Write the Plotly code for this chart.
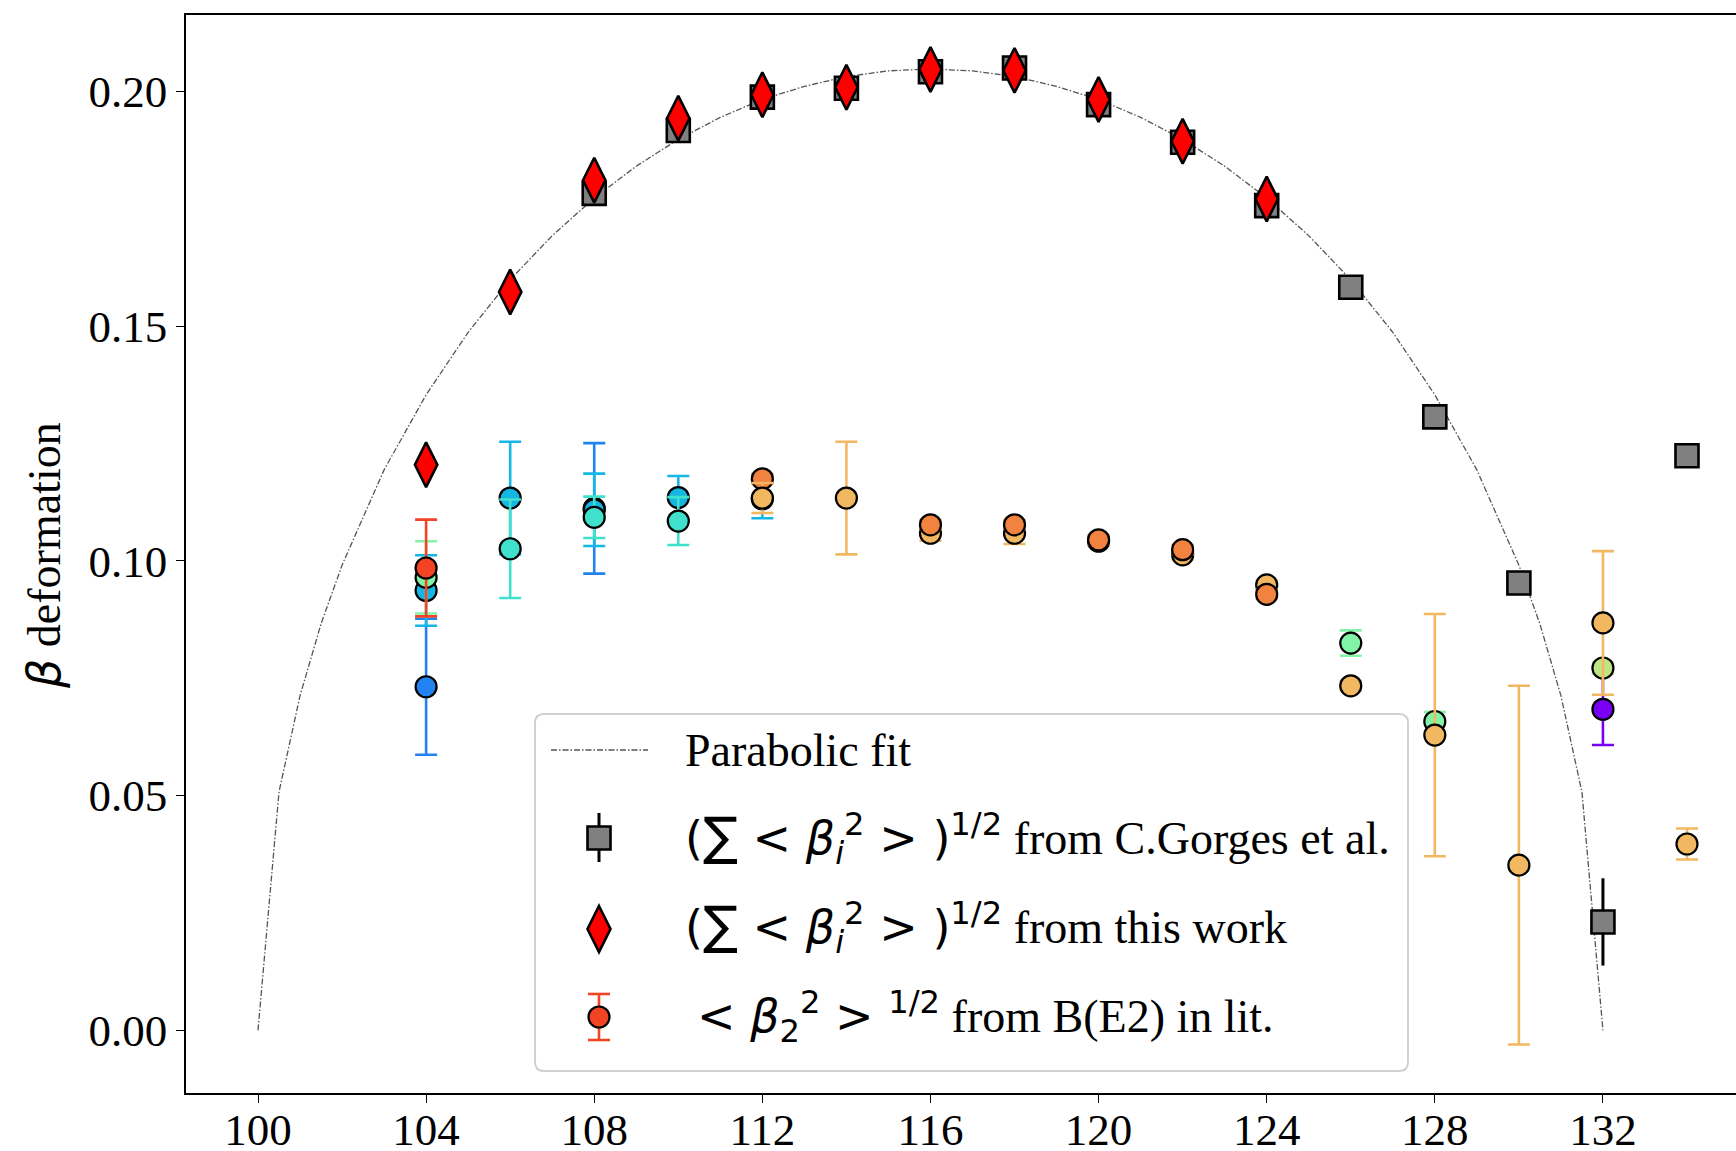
import plotly.graph_objects as go

# ---------------- data ----------------
# parabolic fit of the total deformation versus mass number
fit_A = [100, 100.5, 101, 101.5, 102, 103, 104, 105, 106, 107, 108, 109, 110, 111,
         112, 113, 114, 115, 116, 117, 118, 119, 120, 121, 122, 123, 124, 125, 126,
         127, 128, 129, 130, 130.5, 131, 131.5, 132]
fit_beta = [0.0, 0.0508, 0.0713, 0.0866, 0.0991, 0.1194, 0.1354, 0.1487, 0.1599,
            0.1693, 0.1773, 0.1841, 0.1898, 0.1945, 0.1983, 0.2011, 0.2032, 0.2044,
            0.2048, 0.2044, 0.2032, 0.2011, 0.1983, 0.1945, 0.1898, 0.1841, 0.1773,
            0.1693, 0.1599, 0.1487, 0.1354, 0.1194, 0.0991, 0.0866, 0.0713, 0.0508, 0.0]

# (sum <beta_i^2>)^1/2 from C.Gorges et al.
gorges_A = [108, 110, 112, 114, 116, 118, 120, 122, 124, 126, 128, 130, 132, 134]
gorges_beta = [0.1783, 0.1917, 0.1988, 0.2007, 0.2042, 0.2050, 0.1972, 0.1892,
               0.1757, 0.1583, 0.1307, 0.0953, 0.0231, 0.1224]
gorges_err = [0.002, 0.002, 0.002, 0.002, 0.002, 0.002, 0.002, 0.002, 0.002,
              0.002, 0.002, 0.002, 0.0093, 0.002]

# (sum <beta_i^2>)^1/2 from this work
this_A = [104, 106, 108, 110, 112, 114, 116, 118, 120, 122, 124]
this_beta = [0.1205, 0.1573, 0.1811, 0.1943, 0.1993, 0.2009, 0.2047, 0.2045,
             0.1983, 0.1894, 0.1771]

# <beta_2^2>^1/2 from B(E2) values in the literature, one list per source
purple_A, purple_beta, purple_err = [132], [0.0684], [0.0076]
blue_A, blue_beta, blue_err = [104, 108], [0.0732, 0.1112], [0.0145, 0.0139]
cyan_A = [104, 106, 108, 110, 112]
cyan_beta = [0.0937, 0.1134, 0.1109, 0.1135, 0.1132]
cyan_err = [0.0075, 0.0120, 0.0077, 0.0046, 0.0041]
turq_A = [106, 108, 110]
turq_beta = [0.1026, 0.1093, 0.1085]
turq_err = [0.0105, 0.0044, 0.0051]
mint_A = [104, 126, 128]
mint_beta = [0.0965, 0.0825, 0.0658]
mint_err = [0.0077, 0.0027, 0.0020]
lime_A, lime_beta, lime_err = [132], [0.0772], [0.0012]
orange1_A, orange1_beta, orange1_err = [112], [0.1175], [0.0010]
gold_A = [112, 114, 116, 118, 120, 122, 124, 126, 128, 130, 132, 134]
gold_beta = [0.1134, 0.1134, 0.1059, 0.1059, 0.1042, 0.1013, 0.0949, 0.0734,
             0.0629, 0.0352, 0.0868, 0.0397]
gold_err = [0.0032, 0.0120, 0.0016, 0.0023, 0.0010, 0.0010, 0.0010, 0.0010,
            0.0258, 0.0382, 0.0153, 0.0033]
orange2_A = [116, 118, 120, 122, 124]
orange2_beta = [0.1077, 0.1077, 0.1045, 0.1024, 0.0929]
orange2_err = [0.0010, 0.0010, 0.0010, 0.0010, 0.0010]
red_A, red_beta, red_err = [104], [0.0985], [0.0103]

x_ticks = [100, 104, 108, 112, 116, 120, 124, 128, 132]
y_ticks = [0.00, 0.05, 0.10, 0.15, 0.20]

lit_sources = [
    (purple_A, purple_beta, purple_err, "#7a00f5"),
    (blue_A, blue_beta, blue_err, "#2382f2"),
    (cyan_A, cyan_beta, cyan_err, "#14b6e4"),
    (turq_A, turq_beta, turq_err, "#3fe0cc"),
    (mint_A, mint_beta, mint_err, "#82f4a6"),
    (lime_A, lime_beta, lime_err, "#bfe484"),
    (orange1_A, orange1_beta, orange1_err, "#f2823f"),
    (gold_A, gold_beta, gold_err, "#f2b861"),
    (orange2_A, orange2_beta, orange2_err, "#f2823f"),
    (red_A, red_beta, red_err, "#f24424"),
]

SERIF = "Liberation Serif, Times New Roman, serif"
SANS = "DejaVu Sans"

fig = go.Figure()

fig.add_trace(go.Scatter(
    x=fit_A, y=fit_beta, mode="lines",
    line=dict(color="#555555", width=1.3, dash="6px,2px,1.5px,2px"),
    hoverinfo="skip", showlegend=False))

fig.add_trace(go.Scatter(
    x=gorges_A, y=gorges_beta, mode="markers",
    marker=dict(symbol="square", size=23, color="#808080",
                line=dict(color="black", width=2.6)),
    error_y=dict(type="data", array=gorges_err, color="black",
                 thickness=3, width=0),
    showlegend=False))

fig.add_trace(go.Scatter(
    x=this_A, y=this_beta, mode="markers",
    marker=dict(symbol="diamond-tall", size=32, color="#ff0000",
                line=dict(color="black", width=2.6)),
    showlegend=False))

for A, b, e, c in lit_sources:
    fig.add_trace(go.Scatter(
        x=A, y=b, mode="markers",
        marker=dict(symbol="circle", size=21, color=c,
                    line=dict(color="black", width=2.2)),
        error_y=dict(type="data", array=e, color=c, thickness=2.6, width=11),
        showlegend=False))

# ---------------- layout geometry (pixels) ----------------
W, H = 1736, 1151
L, T, B = 186, 15, 1093
PW, PH = W - L, B - T


def px(xp):
    return (xp - L) / PW


def py(yp):
    return (B - yp) / PH


shapes = []
annotations = []

# legend frame with rounded corners
x0, x1, y0, y1 = px(535), px(1408), py(1071), py(714)
rx, ry = 9 / PW, 9 / PH
frame = (f"M {x0+rx},{y1} L {x1-rx},{y1} Q {x1},{y1} {x1},{y1-ry} "
         f"L {x1},{y0+ry} Q {x1},{y0} {x1-rx},{y0} L {x0+rx},{y0} "
         f"Q {x0},{y0} {x0},{y0+ry} L {x0},{y1-ry} Q {x0},{y1} {x0+rx},{y1} Z")
shapes.append(dict(type="path", path=frame, xref="paper", yref="paper",
                   fillcolor="rgba(255,255,255,0.85)",
                   line=dict(color="#d0d0d0", width=2), layer="above"))

# legend glyphs
gx = 599
shapes.append(dict(type="line", xref="paper", yref="paper",
                   x0=px(551), x1=px(648), y0=py(750), y1=py(750),
                   line=dict(color="#555555", width=1.3, dash="6px,2px,1.5px,2px"),
                   layer="above"))
shapes.append(dict(type="line", xref="paper", yref="paper",
                   x0=px(gx), x1=px(gx), y0=py(813), y1=py(862),
                   line=dict(color="black", width=3), layer="above"))
shapes.append(dict(type="rect", xref="paper", yref="paper",
                   x0=px(gx - 11.5), x1=px(gx + 11.5), y0=py(849.5), y1=py(826.5),
                   fillcolor="#808080", line=dict(color="black", width=2.6),
                   layer="above"))
dia = (f"M {px(gx)},{py(906)} L {px(gx+11.5)},{py(929)} L {px(gx)},{py(952)} "
       f"L {px(gx-11.5)},{py(929)} Z")
shapes.append(dict(type="path", path=dia, xref="paper", yref="paper",
                   fillcolor="#ff0000", line=dict(color="black", width=2.6),
                   layer="above"))
rc = "#f24424"
shapes.append(dict(type="line", xref="paper", yref="paper",
                   x0=px(gx), x1=px(gx), y0=py(994), y1=py(1040),
                   line=dict(color=rc, width=2.6), layer="above"))
for yc in (994, 1040):
    shapes.append(dict(type="line", xref="paper", yref="paper",
                       x0=px(gx - 11), x1=px(gx + 11), y0=py(yc), y1=py(yc),
                       line=dict(color=rc, width=2.6), layer="above"))
shapes.append(dict(type="circle", xref="paper", yref="paper",
                   x0=px(gx - 10.5), x1=px(gx + 10.5), y0=py(1027.5), y1=py(1006.5),
                   fillcolor=rc, line=dict(color="black", width=2.2), layer="above"))

sum_part = (f"<span style=\"font-family:'{SANS}'\">(<span style=\"font-size:52px\">∑</span>"
            f" &lt; <i>β</i><sub><i>i</i></sub><sup>2</sup> &gt; )<sup>1/2</sup></span>")
legend_rows = [
    (683, 750, "Parabolic fit"),
    (683, 838, sum_part + " from C.Gorges et al."),
    (683, 928, sum_part + " from this work"),
    (695, 1016, f"<span style=\"font-family:'{SANS}'\">&lt; <i>β</i><sub>2</sub><sup>2</sup>"
                f" &gt; <sup>1/2</sup></span> from B(E2) in lit."),
]
for xa, ya, txt in legend_rows:
    annotations.append(dict(xref="paper", yref="paper", x=px(xa), y=py(ya),
                            xanchor="left", yanchor="middle", showarrow=False,
                            text=txt, font=dict(family=SERIF, size=46, color="black")))

# y-axis title
annotations.append(dict(xref="paper", yref="paper", x=px(44), y=py(556),
                        xanchor="center", yanchor="middle", showarrow=False,
                        textangle=-90,
                        text=f"<span style=\"font-family:'{SANS}'\"><i>β</i></span> deformation",
                        font=dict(family=SERIF, size=46, color="black")))

fig.update_layout(
    width=W, height=H,
    margin=dict(l=L, r=0, t=T, b=H - B, pad=0, autoexpand=False),
    paper_bgcolor="white", plot_bgcolor="white",
    showlegend=False,
    shapes=shapes, annotations=annotations,
    font=dict(family=SERIF, size=45, color="black"),
)
fig.update_xaxes(
    range=[98.287, 135.166], tickmode="array", tickvals=x_ticks,
    ticktext=[str(v) for v in x_ticks], automargin=False,
    ticklabelstandoff=-12,
    showgrid=False, zeroline=False,
    showline=True, linecolor="black", linewidth=1.6, mirror=True,
    ticks="outside", ticklen=8, tickwidth=1.4, tickcolor="black",
    tickfont=dict(family=SERIF, size=45, color="black"),
)
fig.update_yaxes(
    range=[-0.01334, 0.2163], tickmode="array", tickvals=y_ticks,
    ticktext=[f"{v:.2f}" for v in y_ticks], automargin=False,
    showgrid=False, zeroline=False,
    showline=True, linecolor="black", linewidth=1.6, mirror=False,
    ticks="outside", ticklen=8, tickwidth=1.4, tickcolor="black",
    tickfont=dict(family=SERIF, size=45, color="black"),
)

fig.write_html("out.html")
